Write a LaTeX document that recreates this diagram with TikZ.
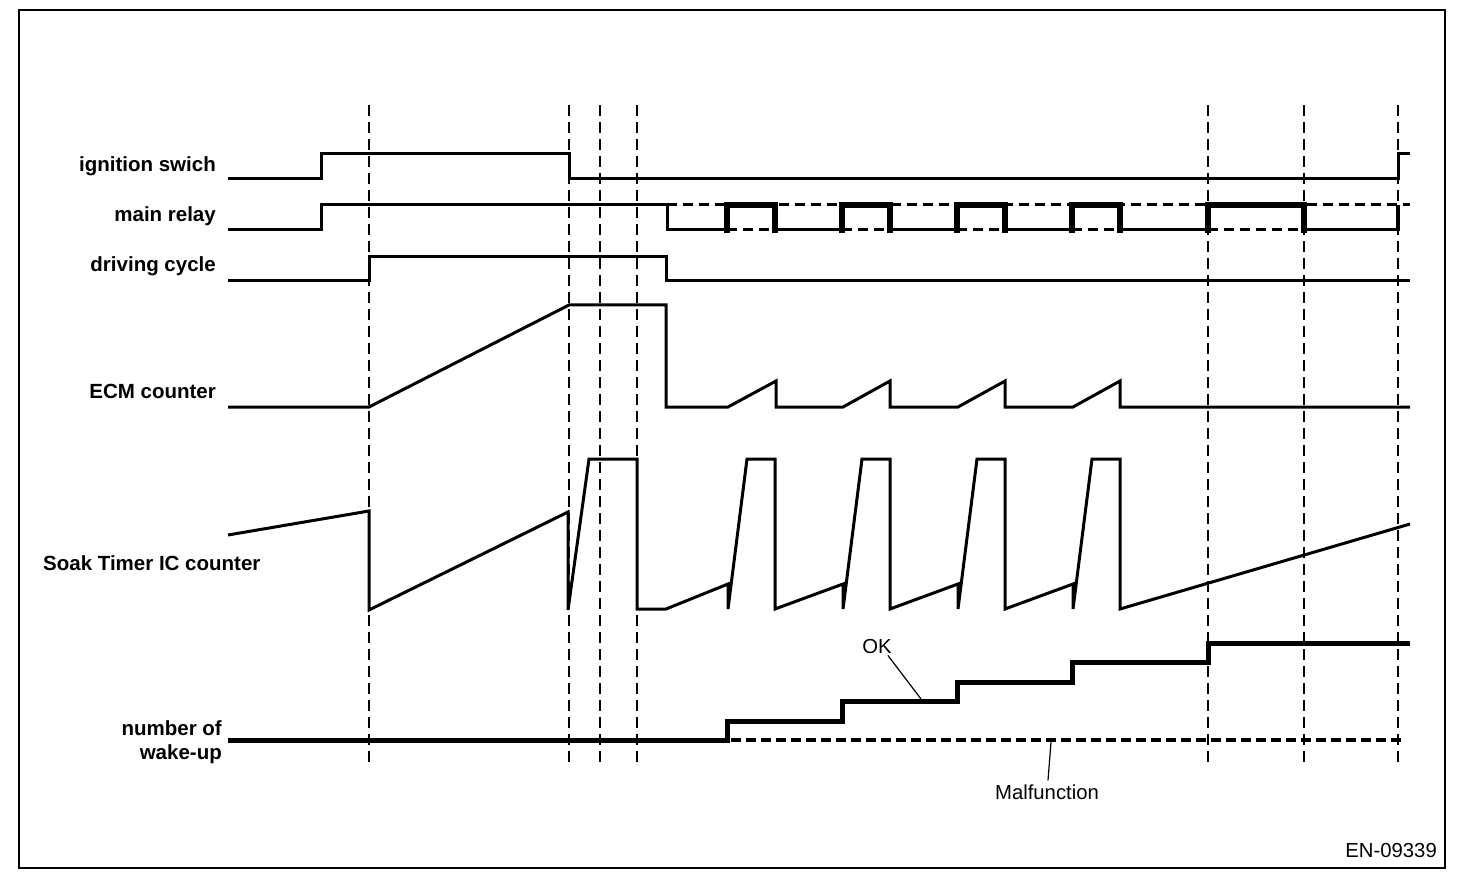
\documentclass[tikz,border=0pt]{standalone}
\usepackage{fontspec}
\setmainfont{Liberation Sans}
\begin{document}
\begin{tikzpicture}[x=1pt,y=-1pt,
  sig/.style={line width=3pt,line join=miter},
  thick pulse/.style={line width=6pt,line join=miter},
  relaydash/.style={line width=3pt,dash pattern=on 10pt off 6pt},
  guide/.style={line width=1.4pt,dash pattern=on 11pt off 6pt},
  stair/.style={line width=5pt,line join=miter},
  stairdash/.style={line width=4pt,dash pattern=on 10pt off 5pt},
  leader/.style={line width=1.2pt},
  lbl/.style={font=\fontsize{20.5}{24}\selectfont\bfseries,inner sep=0pt},
  txt/.style={font=\fontsize{20.3}{24}\selectfont,inner sep=0pt}]
\useasboundingbox (0,0) rectangle (1472,882);
\draw[line width=2pt] (18.5,10) rectangle (1445,868);
% guides
\foreach \gx in {369,569,600,637,1208,1304,1398}
  \draw[guide] (\gx,105) -- (\gx,768);
% labels
\node[lbl,anchor=base east] (ign) at (216,172) {ignition swich};
\node[lbl,anchor=base east] (rel) at (216,222) {main relay};
\node[lbl,anchor=base east] (drv) at (216,272) {driving cycle};
\node[lbl,anchor=base east] (ecm) at (216,398) {ECM counter};
\node[lbl,anchor=base west] (soak) at (43,570) {Soak Timer IC counter};
\node[lbl,anchor=base east] (wake1) at (222,735) {number of};
\node[lbl,anchor=base east] (wake2) at (222,759) {wake-up};
% ignition
\draw[sig] (228,179) -- (321,179) -- (321,154) -- (569,154) -- (569,179) -- (1398,179) -- (1398,154) -- (1410,154);
% main relay
\draw[sig] (228,230) -- (321,230) -- (321,205) -- (667,205) -- (667,230) -- (727,230);
\draw[relaydash] (667,205) -- (1410,205);
\foreach \a/\b in {727/775,842/890,957/1005,1072/1120,1208/1304}
  \draw[relaydash] (\a,230) -- (\b,230);
\foreach \a/\b in {775/842,890/957,1005/1072,1120/1208,1304/1398}
  \draw[sig] (\a,230) -- (\b,230);
\foreach \a/\b in {727/775,842/890,957/1005,1072/1120,1208/1304}
  \draw[thick pulse] (\a,233) -- (\a,205) -- (\b,205) -- (\b,233);
\draw[line width=4pt] (1398,231.5) -- (1398,205);
% driving cycle
\draw[sig] (228,281) -- (369,281) -- (369,257) -- (666,257) -- (666,281) -- (1410,281);
% ECM counter
\draw[sig] (228,407) -- (369,407) -- (569,305) -- (666,305) -- (666,407)
  -- (728,407) -- (776,381) -- (776,407) -- (843,407) -- (890,381) -- (890,407)
  -- (958,407) -- (1005,381) -- (1005,407) -- (1073,407) -- (1120,381) -- (1120,407) -- (1410,407);
% soak timer
\draw[sig] (228,535) -- (369,511) -- (369,610) -- (568,512) -- (568,610) -- (589,459) -- (637,459) -- (637,609) -- (666,609)
  -- (728,584) -- (728,609) -- (747,459) -- (775,459) -- (775,609)
  -- (843,584) -- (843,609) -- (862,459) -- (890,459) -- (890,609)
  -- (958,584) -- (958,609) -- (977,459) -- (1005,459) -- (1005,609)
  -- (1073,584) -- (1073,609) -- (1092,459) -- (1120,459) -- (1120,609) -- (1410,524);
% number of wake-up
\draw[stair] (228,740) -- (727,740) -- (727,721) -- (842,721) -- (842,701) -- (957,701) -- (957,682)
  -- (1072,682) -- (1072,662) -- (1208,662) -- (1208,643) -- (1410,643);
\draw[stairdash] (731,740) -- (1405,740);
% annotations
\node[txt] (ok) at (877,647) {OK};
\coordinate (okend) at (921,699);
\draw[leader] (ok.south east) ++(-4,1) -- (okend);
\node[txt] (mal) at (1047,792) {Malfunction};
\coordinate (malend) at (1051,742);
\draw[leader] (mal.north) ++(1,-4) -- (malend);
\node[txt,anchor=base east] (code) at (1437,857) {EN-09339};
\end{tikzpicture}
\end{document}
